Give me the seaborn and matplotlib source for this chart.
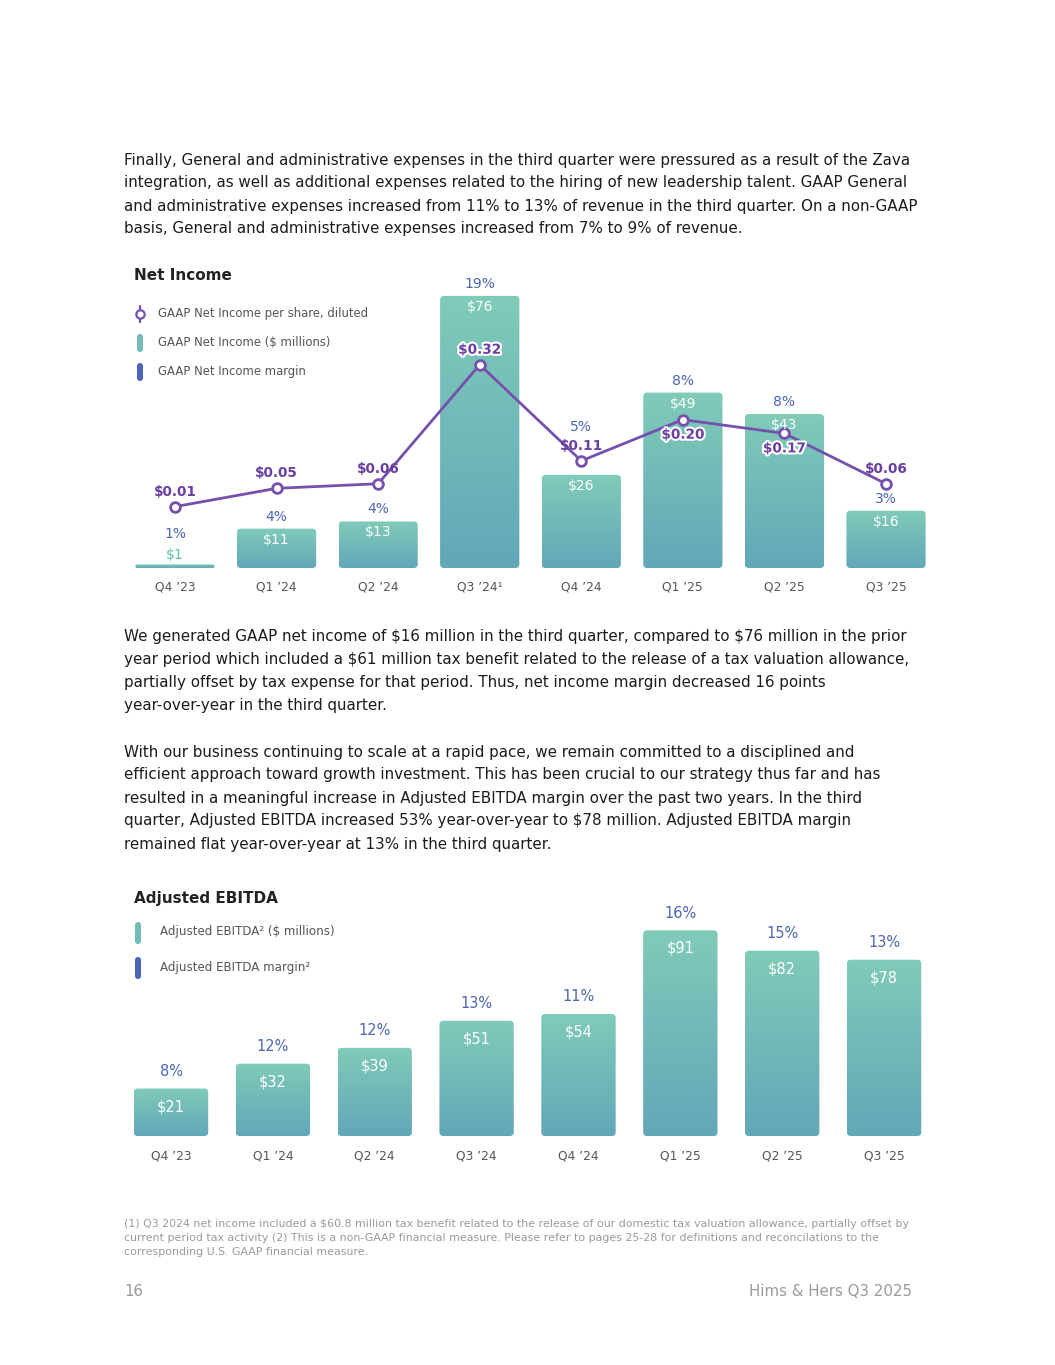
import matplotlib
matplotlib.use('Agg')
import numpy as np
import pandas as pd
import seaborn as sns
import matplotlib.pyplot as plt
import matplotlib.patheffects as pe
from matplotlib.patches import FancyBboxPatch
from matplotlib.colors import LinearSegmentedColormap
from matplotlib.lines import Line2D

# ---- data ----
quarters = ["Q4 ’23", "Q1 ’24", "Q2 ’24", "Q3 ’24", "Q4 ’24", "Q1 ’25", "Q2 ’25", "Q3 ’25"]
ni_ticks = ["Q4 ’23", "Q1 ’24", "Q2 ’24", "Q3 ’24¹", "Q4 ’24", "Q1 ’25", "Q2 ’25", "Q3 ’25"]
net_income = [1, 11, 13, 76, 26, 49, 43, 16]          # $ millions
ni_margin = [1, 4, 4, 19, 5, 8, 8, 3]                 # %
eps = [0.01, 0.05, 0.06, 0.32, 0.11, 0.20, 0.17, 0.06]
ebitda = [21, 32, 39, 51, 54, 91, 82, 78]             # $ millions
ebitda_margin = [8, 12, 12, 13, 11, 16, 15, 13]       # %

# label placement styles
eps_below = [False, False, False, False, False, True, True, False]
eps_halo = [False, False, False, True, False, True, True, False]
margin_over_eps = [False, False, False, False, True, False, False, False]

para1 = [
    "Finally, General and administrative expenses in the third quarter were pressured as a result of the Zava",
    "integration, as well as additional expenses related to the hiring of new leadership talent. GAAP General",
    "and administrative expenses increased from 11% to 13% of revenue in the third quarter. On a non-GAAP",
    "basis, General and administrative expenses increased from 7% to 9% of revenue.",
]
para2 = [
    "We generated GAAP net income of $16 million in the third quarter, compared to $76 million in the prior",
    "year period which included a $61 million tax benefit related to the release of a tax valuation allowance,",
    "partially offset by tax expense for that period. Thus, net income margin decreased 16 points",
    "year-over-year in the third quarter.",
]
para3 = [
    "With our business continuing to scale at a rapid pace, we remain committed to a disciplined and",
    "efficient approach toward growth investment. This has been crucial to our strategy thus far and has",
    "resulted in a meaningful increase in Adjusted EBITDA margin over the past two years. In the third",
    "quarter, Adjusted EBITDA increased 53% year-over-year to $78 million. Adjusted EBITDA margin",
    "remained flat year-over-year at 13% in the third quarter.",
]
footnote = [
    "(1) Q3 2024 net income included a $60.8 million tax benefit related to the release of our domestic tax valuation allowance, partially offset by",
    "current period tax activity (2) This is a non-GAAP financial measure. Please refer to pages 25-28 for definitions and reconcilations to the",
    "corresponding U.S. GAAP financial measure.",
]

TEAL_TOP = "#80cbb9"
TEAL_BOT = "#62a7b8"
TEAL = "#72bbb8"
BLUE = "#4a66b5"
PURPLE = "#7550ad"
PURPLE_TXT = "#6a3fa3"
GREY = "#555555"
LIGHT = "#9a9a9a"

sns.set_theme(style="white")
plt.rcParams['font.family'] = ['DejaVu Sans']

W, H = 1055, 1365
fig = plt.figure(figsize=(W / 100, H / 100), dpi=100)


def fx(px):
    return px / W


def fy(py):
    return 1 - py / H


def page_text(x, y, s, **kw):
    kw.setdefault('va', 'center')
    fig.text(fx(x), fy(y), s, parse_math=False, **kw)


def paragraph(lines, y0, step=23):
    for i, line in enumerate(lines):
        page_text(124, y0 + i * step, line, fontsize=10.9, color="#1c1c1c")


cmap = LinearSegmentedColormap.from_list("teal", [TEAL_BOT, TEAL_TOP])
grad = np.linspace(0, 1, 256).reshape(-1, 1)


def gradient_bars(ax, xpx, ypx):
    # replace seaborn's flat bars by rounded gradient ones
    for bar in list(ax.patches):
        x0, w, h = bar.get_x(), bar.get_width(), bar.get_height()
        bar.set_visible(False)
        r_px = min(4.0, h * ypx / 2)
        box = FancyBboxPatch((x0, 0), w, h,
                             boxstyle=f"round,pad=0,rounding_size={r_px / xpx}",
                             mutation_aspect=xpx / ypx,
                             facecolor='none', edgecolor='none')
        ax.add_patch(box)
        im = ax.imshow(grad, extent=(x0, x0 + w, 0, h), origin='lower',
                       aspect='auto', cmap=cmap, zorder=2)
        im.set_clip_path(box)


def chart_axes(left_px, base_px, width_px, height_px):
    return fig.add_axes([fx(left_px), fy(base_px), width_px / W, height_px / H])


def style_axis(ax, ticks, pad):
    ax.set_xticks(range(len(ticks)))
    ax.set_xticklabels(ticks)
    ax.tick_params(axis='x', length=0, pad=pad, labelsize=8.8, labelcolor=GREY)
    ax.set_yticks([])
    ax.set_xlabel("")
    ax.set_ylabel("")
    sns.despine(ax=ax, left=True, bottom=True)
    ax.patch.set_alpha(0)


# ---- Net Income chart ----
ni_xpx = 101.6
ni_ypx = 3.58
ax1 = chart_axes(124.2, 568, 812.6, 288)
df_ni = pd.DataFrame({"quarter": quarters, "net_income": net_income})
sns.barplot(data=df_ni, x="quarter", y="net_income", ax=ax1, width=0.78,
            color=TEAL, saturation=1)
gradient_bars(ax1, ni_xpx, ni_ypx)
ax1.set_xlim(-0.5, 7.5)
ax1.set_ylim(0, 288 / ni_ypx)
style_axis(ax1, ni_ticks, 9)

ax2 = ax1.twinx()
sns.lineplot(x=np.arange(len(eps)), y=eps, ax=ax2, color=PURPLE, linewidth=2,
             marker='o', markersize=7, markerfacecolor='white',
             markeredgecolor=PURPLE, markeredgewidth=2, zorder=5)
ax2.set_ylim(-0.124, 0.505)
ax2.set_yticks([])
ax2.set_ylabel("")
sns.despine(ax=ax2, left=True, bottom=True, right=True)

# all labels go on the top axes so they sit above the line markers
bar_xy = ax1.transData
for i, (v, m, e) in enumerate(zip(net_income, ni_margin, eps)):
    top_px = v * ni_ypx
    if top_px < 20:
        ax2.annotate(f"${v}", (i, v), xycoords=bar_xy, xytext=(0, 9),
                     textcoords='offset pixels', ha='center', va='center',
                     fontsize=10, color="#5fbcaa", parse_math=False,
                     annotation_clip=False)
        m_off = 30
    else:
        ax2.annotate(f"${v}", (i, v), xycoords=bar_xy, xytext=(0, -11),
                     textcoords='offset pixels', ha='center', va='center',
                     fontsize=10, color='white', parse_math=False, zorder=6,
                     annotation_clip=False)
        m_off = 12
    if margin_over_eps[i]:
        ax2.annotate(f"{m}%", (i, e), xytext=(0, 34), textcoords='offset pixels',
                     ha='center', va='center', fontsize=10, color=BLUE,
                     annotation_clip=False)
    else:
        ax2.annotate(f"{m}%", (i, v), xycoords=bar_xy, xytext=(0, m_off),
                     textcoords='offset pixels', ha='center', va='center',
                     fontsize=10, color=BLUE, annotation_clip=False)
    dy = -15 if eps_below[i] else 15
    effects = [pe.withStroke(linewidth=3, foreground='white')] if eps_halo[i] else []
    ax2.annotate(f"${e:.2f}", (i, e), xytext=(0, dy), textcoords='offset pixels',
                 ha='center', va='center', fontsize=9.8, color=PURPLE_TXT,
                 fontweight='semibold', parse_math=False, zorder=7,
                 path_effects=effects, annotation_clip=False)

# legend for Net Income
page_text(134, 276, "Net Income", fontsize=11, fontweight='bold', color="#222222")
fig.add_artist(Line2D([fx(140), fx(140)], [fy(306), fy(322)], color=PURPLE, lw=1.6))
fig.add_artist(Line2D([fx(140)], [fy(314)], marker='o', markersize=6,
                      markerfacecolor='white', markeredgecolor=PURPLE,
                      markeredgewidth=1.6))


def legend_bar(x, y, h, color):
    fig.add_artist(FancyBboxPatch((fx(x - 3), fy(y + h / 2)), 6 / W, h / H,
                                  boxstyle=f"round,pad=0,rounding_size={3 / W}",
                                  mutation_aspect=W / H, transform=fig.transFigure,
                                  facecolor=color, edgecolor='none'))


legend_bar(140, 343, 18, TEAL)
legend_bar(140, 372, 18, BLUE)
page_text(158, 314, "GAAP Net Income per share, diluted", fontsize=8.4, color=GREY)
page_text(158, 343, "GAAP Net Income ($ millions)", fontsize=8.4, color=GREY)
page_text(158, 372, "GAAP Net Income margin", fontsize=8.4, color=GREY)

# ---- Adjusted EBITDA chart ----
eb_xpx = 101.86
eb_ypx = 2.26
ax3 = chart_axes(120.1, 1136, 814.9, 236)
df_eb = pd.DataFrame({"quarter": quarters, "ebitda": ebitda})
sns.barplot(data=df_eb, x="quarter", y="ebitda", ax=ax3, width=0.73,
            color=TEAL, saturation=1)
gradient_bars(ax3, eb_xpx, eb_ypx)
ax3.set_xlim(-0.5, 7.5)
ax3.set_ylim(0, 236 / eb_ypx)
style_axis(ax3, quarters, 10)

for i, (v, m) in enumerate(zip(ebitda, ebitda_margin)):
    ax3.annotate(f"${v}", (i, v), xytext=(0, -18), textcoords='offset pixels',
                 ha='center', va='center', fontsize=10.5, color='white',
                 parse_math=False, zorder=6, annotation_clip=False)
    ax3.annotate(f"{m}%", (i, v), xytext=(0, 17), textcoords='offset pixels',
                 ha='center', va='center', fontsize=10.5, color=BLUE,
                 annotation_clip=False)

page_text(134, 898, "Adjusted EBITDA", fontsize=11, fontweight='bold', color="#222222")
legend_bar(138, 933, 22, TEAL)
legend_bar(138, 968, 22, BLUE)
page_text(160, 932, "Adjusted EBITDA² ($ millions)", fontsize=8.6, color=GREY)
page_text(160, 967, "Adjusted EBITDA margin²", fontsize=8.6, color=GREY)

# ---- page text ----
paragraph(para1, 160)
paragraph(para2, 636)
paragraph(para3, 752)
for i, line in enumerate(footnote):
    page_text(124, 1224 + i * 14, line, fontsize=7.9, color=LIGHT)
page_text(124, 1292, "16", fontsize=10.8, color=LIGHT)
page_text(912, 1292, "Hims & Hers Q3 2025", fontsize=10.8, color=LIGHT, ha='right')

fig.savefig("out.png", dpi=100)
